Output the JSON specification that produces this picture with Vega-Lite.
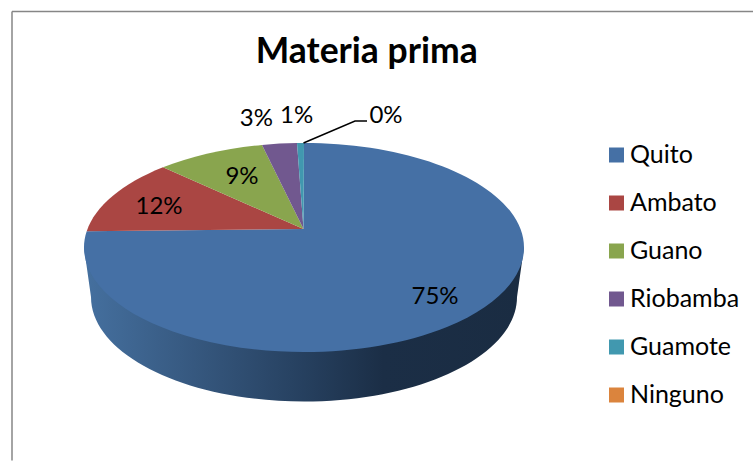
{
"$schema":"https://vega.github.io/schema/vega-lite/v6.json",
"width":741,"height":449,
"autosize":{"type":"none"},
"padding":{"left":12,"top":11.5,"right":0,"bottom":0.5},
"background":"white",
"config":{"view":{"stroke":null},"font":"Lato"},
"title":{"text":"Materia prima","font":"Lato","fontSize":35.5,"fontWeight":"bold","color":"#000000","anchor":"middle","dx":-15.8,"dy":36,"offset":-51.8,"baseline":"alphabetic"},
"data":{"values":[
{"ciudad":"Quito","participacion":0.75},
{"ciudad":"Ambato","participacion":0.12},
{"ciudad":"Guano","participacion":0.09},
{"ciudad":"Riobamba","participacion":0.03},
{"ciudad":"Guamote","participacion":0.01},
{"ciudad":"Ninguno","participacion":0.0}
]},
"layer":[
{"data":{"values":[{"marco":"borde"}]},"mark":{"type":"rule","stroke":"#868686","strokeWidth":1.5},"encoding":{"y":{"value":0}}},
{"data":{"values":[{"marco":"borde"}]},"mark":{"type":"rule","stroke":"#868686","strokeWidth":1.5},"encoding":{"x":{"value":0}}},
{"transform":[{"filter":"datum.ciudad === 'Quito'"}],
 "mark":{"type":"point","filled":true,"opacity":1,"size":4,"strokeWidth":0,
  "shape":"M-298.5,11.5 L-291.5,61 A213,104.5 0 0 0 134.5,61 L141.5,11.5 Z",
  "fill":{"gradient":"linear","x1":0,"y1":0,"x2":1,"y2":0,"stops":[{"offset":0,"color":"#45709f"},{"offset":0.25,"color":"#36587f"},{"offset":0.5,"color":"#26405f"},{"offset":0.68,"color":"#1b2e46"},{"offset":1,"color":"#1a2c42"}]}},
 "encoding":{}},
{"mark":{"type":"point","filled":true,"opacity":1,"size":4,"strokeWidth":0},
 "encoding":{
  "shape":{"field":"participacion","type":"nominal","legend":null,"scale":{
    "domain":[0.75,0.12,0.09,0.03,0.01,0],
    "range":[
     "M-79,-7 L-78.5,-93 A220,104.5 0 1 1 -295.8,-4.8 Z",
     "M-79,-7 L-295.8,-4.8 A220,104.5 0 0 1 -219.5,-68.7 Z",
     "M-79,-7 L-219.5,-68.7 A220,104.5 0 0 1 -120.5,-91.1 Z",
     "M-79,-7 L-120.5,-91.1 A220,104.5 0 0 1 -85.5,-92.95 Z",
     "M-79,-7 L-85.5,-92.95 A220,104.5 0 0 1 -78.5,-93 Z",
     "M-78.5,-93 L-78.5,-93 Z"]}},
  "color":{"field":"ciudad","type":"nominal","scale":{
    "domain":["Quito","Ambato","Guano","Riobamba","Guamote","Ninguno"],
    "range":["#4570a5","#aa4643","#89a54e","#71588f","#4198af","#db843d"]},
   "legend":{"orient":"none","legendX":592,"legendY":131,"title":null,"symbolType":"square","symbolSize":225,"symbolStrokeWidth":0,"symbolOpacity":1,"labelFont":"Lato","labelFontSize":25,"labelColor":"#000000","labelOffset":1,"rowPadding":22,"labelLimit":200}}
 }},
{"transform":[{"filter":"datum.ciudad === 'Ninguno'"}],
 "mark":{"type":"point","filled":false,"opacity":1,"size":4,"stroke":"#000000","strokeWidth":1.5,"shape":"M-79,-93 L-27.5,-115 L-15.5,-115"},
 "encoding":{}},
{"transform":[{"filter":"datum.ciudad === 'Quito'"}],"mark":{"type":"text","font":"Lato","fontSize":24,"color":"#000000","align":"center","baseline":"middle","dx":52.5,"dy":61.2},"encoding":{"text":{"field":"participacion","type":"quantitative","format":".0%"}}},
{"transform":[{"filter":"datum.ciudad === 'Ambato'"}],"mark":{"type":"text","font":"Lato","fontSize":24,"color":"#000000","align":"center","baseline":"middle","dx":-223.5,"dy":-28.8},"encoding":{"text":{"field":"participacion","type":"quantitative","format":".0%"}}},
{"transform":[{"filter":"datum.ciudad === 'Guano'"}],"mark":{"type":"text","font":"Lato","fontSize":24,"color":"#000000","align":"center","baseline":"middle","dx":-140.5,"dy":-58.8},"encoding":{"text":{"field":"participacion","type":"quantitative","format":".0%"}}},
{"transform":[{"filter":"datum.ciudad === 'Riobamba'"}],"mark":{"type":"text","font":"Lato","fontSize":24,"color":"#000000","align":"center","baseline":"middle","dx":-126.2,"dy":-117.5},"encoding":{"text":{"field":"participacion","type":"quantitative","format":".0%"}}},
{"transform":[{"filter":"datum.ciudad === 'Guamote'"}],"mark":{"type":"text","font":"Lato","fontSize":24,"color":"#000000","align":"center","baseline":"middle","dx":-85.8,"dy":-120.5},"encoding":{"text":{"field":"participacion","type":"quantitative","format":".0%"}}},
{"transform":[{"filter":"datum.ciudad === 'Ninguno'"}],"mark":{"type":"text","font":"Lato","fontSize":24,"color":"#000000","align":"center","baseline":"middle","dx":3.5,"dy":-120.5},"encoding":{"text":{"field":"participacion","type":"quantitative","format":".0%"}}}
]
}
